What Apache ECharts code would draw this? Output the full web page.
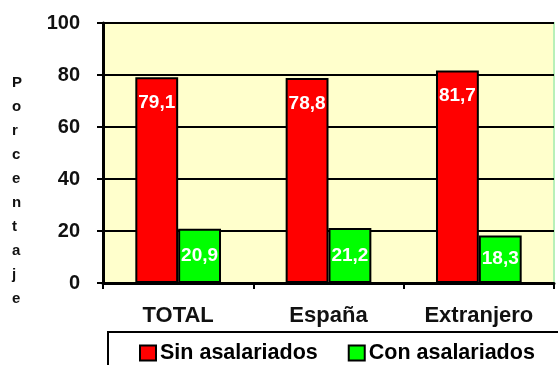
<!DOCTYPE html>
<html>
<head>
<meta charset="utf-8">
<script src="https://cdn.jsdelivr.net/npm/echarts@6/dist/echarts.min.js"></script>
<style>
  html, body { margin: 0; padding: 0; background: #ffffff; }
  #chart { width: 558px; height: 365px; }
</style>
</head>
<body>
<div id="chart"></div>
<script>
// Categories and percentages
const categories = ['TOTAL', 'España', 'Extranjero'];
const sinAsalariados = [79.1, 78.8, 81.7];
const conAsalariados = [20.9, 21.2, 18.3];
const yTicks = { min: 0, max: 100, interval: 20 };

const fmt = p => p.value.toFixed(1).replace('.', ',');
const font = 'Arial, "Liberation Sans", sans-serif';

const chart = echarts.init(document.getElementById('chart'), null, { renderer: 'canvas' });

chart.setOption({
  animation: false,
  backgroundColor: '#ffffff',
  textStyle: { fontFamily: font },
  title: {
    text: 'Porcentaje'.split('').join('\n'),
    left: 7,
    top: 66,
    textStyle: {
      fontFamily: font,
      fontSize: 15,
      fontWeight: 'bold',
      color: '#111111',
      lineHeight: 24,
      align: 'center'
    }
  },
  grid: {
    left: 103,
    right: 4,
    top: 23,
    bottom: 82,
    show: true,
    backgroundColor: '#FFFFCC',
    borderColor: '#B8F0B8',
    borderWidth: 2
  },
  legend: {
    data: ['Sin asalariados', 'Con asalariados'],
    left: 108,
    top: 332,
    width: 440,
    padding: [10, 40, 14, 31],
    itemGap: 30,
    itemWidth: 16,
    itemHeight: 15,
    borderColor: '#000000',
    borderWidth: 2,
    icon: 'rect',
    itemStyle: { borderColor: '#000000', borderWidth: 2 },
    textStyle: {
      fontFamily: font,
      fontSize: 21.5,
      fontWeight: 'bold',
      color: '#000000',
      padding: [0, 0, 0, -1]
    }
  },
  xAxis: {
    type: 'category',
    data: categories,
    axisLine: { show: true, lineStyle: { color: '#000000', width: 3 } },
    axisTick: { show: true, length: 6, lineStyle: { color: '#000000', width: 2 } },
    axisLabel: {
      fontFamily: font,
      fontSize: 22,
      fontWeight: 'bold',
      color: '#111111',
      margin: 22
    },
    splitLine: { show: false }
  },
  yAxis: {
    type: 'value',
    min: yTicks.min,
    max: yTicks.max,
    interval: yTicks.interval,
    axisLine: { show: true, lineStyle: { color: '#000000', width: 3 } },
    axisTick: { show: true, length: 6, lineStyle: { color: '#000000', width: 2 } },
    axisLabel: {
      fontFamily: font,
      fontSize: 20,
      fontWeight: 'bold',
      color: '#111111',
      margin: 23
    },
    splitLine: { show: true, lineStyle: { color: '#000000', width: 2 } }
  },
  series: [
    {
      name: 'Sin asalariados',
      type: 'bar',
      data: sinAsalariados,
      barGap: '0%',
      barCategoryGap: '43%',
      itemStyle: { color: '#FF0000', borderColor: '#000000', borderWidth: 2 },
      label: {
        show: true,
        position: 'insideTop',
        distance: 16,
        formatter: fmt,
        fontFamily: font,
        fontSize: 19,
        fontWeight: 'bold',
        color: '#ffffff'
      },
      z: 3
    },
    {
      name: 'Con asalariados',
      type: 'bar',
      data: conAsalariados,
      itemStyle: { color: '#00FF00', borderColor: '#000000', borderWidth: 2 },
      label: {
        show: true,
        position: 'inside',
        formatter: fmt,
        fontFamily: font,
        fontSize: 19,
        fontWeight: 'bold',
        color: '#ffffff'
      },
      z: 3
    }
  ]
});
</script>
</body>
</html>
